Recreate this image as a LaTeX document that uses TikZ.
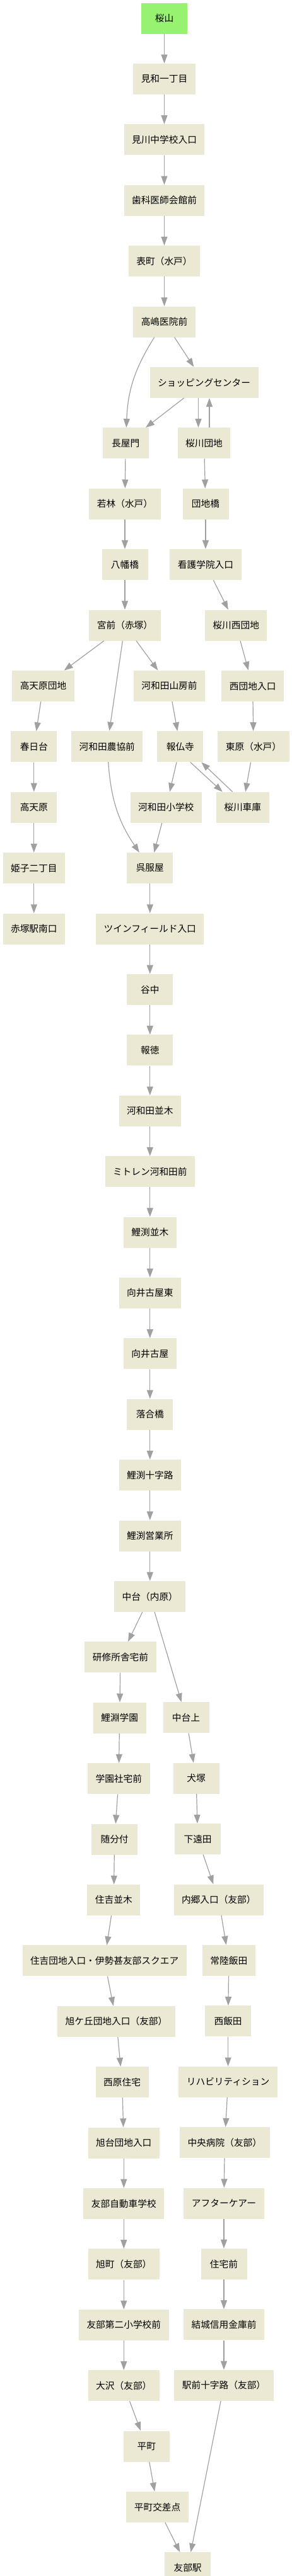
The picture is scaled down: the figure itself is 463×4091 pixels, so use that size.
\documentclass[tikz,border=0pt]{standalone}
\usepackage{fontspec}
\setmainfont{Noto Sans CJK JP}
\usepackage{tikz}
\usetikzlibrary{positioning, arrows.meta}

\definecolor{stopfill}{RGB}{235,233,212}
\definecolor{startfill}{RGB}{150,242,112}
\definecolor{linkgray}{RGB}{160,160,160}

\begin{document}
\begin{tikzpicture}[
    font=\fontsize{14.7pt}{17pt}\selectfont,
    busstop/.style={fill=stopfill, minimum width=73pt, minimum height=49pt,
                    inner xsep=12.5pt, align=center},
    startstop/.style={busstop, fill=startfill},
    lnk/.style={-{Triangle[length=14pt, width=10pt]}, line width=1.2pt, draw=linkgray},
    node distance=47pt,
  ]
  \useasboundingbox (0,0) rectangle (463pt,-4091pt);

  \node[startstop] (sakurayama) at (260.5pt,-29pt) {桜山};
  \node[busstop, below=of sakurayama] (miwa) {見和一丁目};
  \node[busstop, below=of miwa] (mikawa) {見川中学校入口};
  \node[busstop, below=of mikawa] (shika) {歯科医師会館前};
  \node[busstop, below=of shika] (omote) {表町（水戸）};
  \node[busstop, below=of omote] (takashima) {高嶋医院前};
  \node[busstop, below=of takashima, xshift=63pt] (shopping) {ショッピングセンター};
  \node[busstop, below=of shopping, xshift=-124.3pt] (nagayamon) {長屋門};
  \node[busstop, below=of shopping] (sakuragawa) {桜川団地};
  \node[busstop, below=of nagayamon, xshift=-1.2pt] (wakabayashi) {若林（水戸）};
  \node[busstop, below=of sakuragawa, xshift=2.5pt] (danchibashi) {団地橋};
  \node[busstop, below=of wakabayashi] (hachiman) {八幡橋};
  \node[busstop, below=of danchibashi] (kango) {看護学院入口};
  \node[busstop, below=of hachiman] (miyamae) {宮前（赤塚）};
  \node[busstop, below=of kango, xshift=48.2pt] (sakuranishi) {桜川西団地};
  \node[busstop, below=of miyamae, xshift=-129.5pt] (takadanchi) {高天原団地};
  \node[busstop, below=of miyamae, xshift=70.5pt] (yamabo) {河和田山房前};
  \node[busstop, below=of sakuranishi, xshift=26.5pt] (nishidanchi) {西団地入口};
  \node[busstop, below=of takadanchi, xshift=-14.7pt] (kasugadai) {春日台};
  \node[busstop, below=143pt of miyamae, xshift=-28.2pt] (nokyo) {河和田農協前};
  \node[busstop, below=of yamabo, xshift=17.3pt] (hobutsuji) {報仏寺};
  \node[busstop, below=of nishidanchi, xshift=1.3pt] (higashihara) {東原（水戸）};
  \node[busstop, below=of kasugadai] (takamagahara) {高天原};
  \node[busstop, below=of hobutsuji, xshift=-22.5pt] (shogakko) {河和田小学校};
  \node[busstop, below=of higashihara, xshift=-17.3pt] (shako) {桜川車庫};
  \node[busstop, below=of takamagahara] (himeko) {姫子二丁目};
  \node[busstop, below=of shogakko, xshift=-25.5pt] (gofukuya) {呉服屋};
  \node[busstop, below=of himeko] (akatsuka) {赤塚駅南口};
  \node[busstop, below=of gofukuya] (twin) {ツインフィールド入口};
  \node[busstop, below=of twin] (yanaka) {谷中};
  \node[busstop, below=of yanaka] (hotoku) {報徳};
  \node[busstop, below=of hotoku] (kawanamiki) {河和田並木};
  \node[busstop, below=of kawanamiki] (mitoren) {ミトレン河和田前};
  \node[busstop, below=of mitoren] (koinamiki) {鯉渕並木};
  \node[busstop, below=of koinamiki] (mukaihigashi) {向井古屋東};
  \node[busstop, below=of mukaihigashi] (mukai) {向井古屋};
  \node[busstop, below=of mukai] (ochiai) {落合橋};
  \node[busstop, below=of ochiai] (jujiro) {鯉渕十字路};
  \node[busstop, below=of jujiro] (eigyosho) {鯉渕営業所};
  \node[busstop, below=of eigyosho] (nakadai) {中台（内原）};
  \node[busstop, below=of nakadai, xshift=-46.8pt] (kenshu) {研修所舎宅前};
  \node[busstop, below=of kenshu, xshift=-1.4pt] (gakuen) {鯉淵学園};
  \node[busstop, below=143pt of nakadai, xshift=57.2pt] (nakadaiue) {中台上};
  \node[busstop, below=of gakuen, xshift=-1.3pt] (shataku) {学園社宅前};
  \node[busstop, below=of nakadaiue, xshift=16pt] (inuzuka) {犬塚};
  \node[busstop, below=of shataku, xshift=-6.7pt] (zuibun) {随分付};
  \node[busstop, below=of inuzuka, xshift=2.6pt] (shimotoda) {下遠田};
  \node[busstop, below=of zuibun, xshift=-1.3pt] (suminamiki) {住吉並木};
  \node[busstop, below=of shimotoda, xshift=33.2pt] (uchigo) {内郷入口（友部）};
  \node[busstop, below=of suminamiki, xshift=-14.7pt] (sumidanchi) {住吉団地入口・伊勢甚友部スクエア};
  \node[busstop, below=of uchigo, xshift=16pt] (hitachiiida) {常陸飯田};
  \node[busstop, below=of sumidanchi, xshift=18.9pt] (asahigaoka) {旭ケ丘団地入口（友部）};
  \node[busstop, below=of hitachiiida, xshift=-1.2pt] (nishiiida) {西飯田};
  \node[busstop, below=of asahigaoka, xshift=9.1pt] (nishihara) {西原住宅};
  \node[busstop, below=of nishiiida] (rehab) {リハビリティション};
  \node[busstop, below=of nishihara, xshift=2.7pt] (asahidai) {旭台団地入口};
  \node[busstop, below=of rehab, xshift=-5.3pt] (chuo) {中央病院（友部）};
  \node[busstop, below=of asahidai] (jidosha) {友部自動車学校};
  \node[busstop, below=of chuo, xshift=-1.3pt] (aftercare) {アフターケアー};
  \node[busstop, below=of jidosha] (asahimachi) {旭町（友部）};
  \node[busstop, below=of aftercare] (jutaku) {住宅前};
  \node[busstop, below=of asahimachi] (daini) {友部第二小学校前};
  \node[busstop, below=of jutaku] (yuki) {結城信用金庫前};
  \node[busstop, below=of daini] (osawa) {大沢（友部）};
  \node[busstop, below=of yuki] (ekimae) {駅前十字路（友部）};
  \node[busstop, below=of osawa, xshift=36pt] (hiramachi) {平町};
  \node[busstop, below=of hiramachi, xshift=17.3pt] (kosaten) {平町交差点};
  \node[busstop, below=of kosaten, xshift=48pt] (tomobe) {友部駅};

  \draw[lnk] (sakurayama) -- (miwa);
  \draw[lnk] (miwa) -- (mikawa);
  \draw[lnk] (mikawa) -- (shika);
  \draw[lnk] (shika) -- (omote);
  \draw[lnk] (omote) -- (takashima);
  \draw[lnk] (takashima) to[bend right=15] (nagayamon);
  \draw[lnk] (takashima) -- (shopping);
  \draw[lnk] (shopping) -- (nagayamon);
  \draw[lnk] ([xshift=-9pt]shopping.south) -- ([xshift=-9pt]sakuragawa.north);
  \draw[lnk] ([xshift=8.5pt]sakuragawa.north) -- ([xshift=8.5pt]shopping.south);
  \draw[lnk] (nagayamon) -- (wakabayashi);
  \draw[lnk] (sakuragawa) -- (danchibashi);
  \draw[lnk] (wakabayashi) -- (hachiman);
  \draw[lnk] (danchibashi) -- (kango);
  \draw[lnk] (hachiman) -- (miyamae);
  \draw[lnk] (kango) -- (sakuranishi);
  \draw[lnk] (miyamae) -- (takadanchi);
  \draw[lnk] (miyamae) -- (nokyo);
  \draw[lnk] (miyamae) -- (yamabo);
  \draw[lnk] (sakuranishi) -- (nishidanchi);
  \draw[lnk] (takadanchi) -- (kasugadai);
  \draw[lnk] (yamabo) -- (hobutsuji);
  \draw[lnk] (nishidanchi) -- (higashihara);
  \draw[lnk] (nokyo) to[bend right=15] (gofukuya);
  \draw[lnk] (hobutsuji) -- (shogakko);
  \draw[lnk] ([xshift=16pt]hobutsuji.south) -- ([xshift=-32pt]shako.north);
  \draw[lnk] ([xshift=-16pt]shako.north) -- ([xshift=33.5pt]hobutsuji.south);
  \draw[lnk] (higashihara) -- (shako);
  \draw[lnk] (kasugadai) -- (takamagahara);
  \draw[lnk] (takamagahara) -- (himeko);
  \draw[lnk] (himeko) -- (akatsuka);
  \draw[lnk] (shogakko) -- (gofukuya);
  \draw[lnk] (gofukuya) -- (twin);
  \draw[lnk] (twin) -- (yanaka);
  \draw[lnk] (yanaka) -- (hotoku);
  \draw[lnk] (hotoku) -- (kawanamiki);
  \draw[lnk] (kawanamiki) -- (mitoren);
  \draw[lnk] (mitoren) -- (koinamiki);
  \draw[lnk] (koinamiki) -- (mukaihigashi);
  \draw[lnk] (mukaihigashi) -- (mukai);
  \draw[lnk] (mukai) -- (ochiai);
  \draw[lnk] (ochiai) -- (jujiro);
  \draw[lnk] (jujiro) -- (eigyosho);
  \draw[lnk] (eigyosho) -- (nakadai);
  \draw[lnk] (nakadai) -- (kenshu);
  \draw[lnk] (nakadai) -- (nakadaiue);
  \draw[lnk] (kenshu) -- (gakuen);
  \draw[lnk] (gakuen) -- (shataku);
  \draw[lnk] (shataku) -- (zuibun);
  \draw[lnk] (zuibun) -- (suminamiki);
  \draw[lnk] (nakadaiue) -- (inuzuka);
  \draw[lnk] (inuzuka) -- (shimotoda);
  \draw[lnk] (shimotoda) -- (uchigo);
  \draw[lnk] (suminamiki) -- (sumidanchi);
  \draw[lnk] (uchigo) -- (hitachiiida);
  \draw[lnk] (sumidanchi) -- (asahigaoka);
  \draw[lnk] (hitachiiida) -- (nishiiida);
  \draw[lnk] (asahigaoka) -- (nishihara);
  \draw[lnk] (nishiiida) -- (rehab);
  \draw[lnk] (nishihara) -- (asahidai);
  \draw[lnk] (rehab) -- (chuo);
  \draw[lnk] (asahidai) -- (jidosha);
  \draw[lnk] (chuo) -- (aftercare);
  \draw[lnk] (jidosha) -- (asahimachi);
  \draw[lnk] (aftercare) -- (jutaku);
  \draw[lnk] (asahimachi) -- (daini);
  \draw[lnk] (jutaku) -- (yuki);
  \draw[lnk] (daini) -- (osawa);
  \draw[lnk] (yuki) -- (ekimae);
  \draw[lnk] (osawa) -- (hiramachi);
  \draw[lnk] (hiramachi) -- (kosaten);
  \draw[lnk] (kosaten) -- (tomobe);
  \draw[lnk] (ekimae) -- (tomobe);
\end{tikzpicture}
\end{document}
